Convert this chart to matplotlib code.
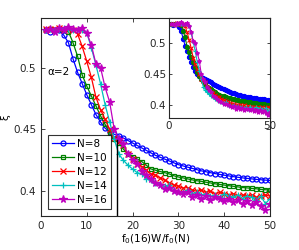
import matplotlib
matplotlib.use("Agg")
import matplotlib.pyplot as plt

x = list(range(1, 51))

xi_n8 = [0.530, 0.529, 0.530, 0.530, 0.526, 0.520, 0.507, 0.496, 0.487, 0.478,
         0.470, 0.462, 0.456, 0.451, 0.448, 0.446, 0.4445, 0.443, 0.441, 0.439,
         0.437, 0.435, 0.433, 0.431, 0.429, 0.4275, 0.426, 0.4245, 0.423, 0.4215,
         0.4205, 0.4195, 0.4185, 0.4175, 0.4165, 0.4158, 0.415, 0.4143, 0.4136, 0.413,
         0.4124, 0.4118, 0.4113, 0.4108, 0.4104, 0.410, 0.4096, 0.4093, 0.409, 0.4087]
xi_n10 = [0.530, 0.531, 0.530, 0.531, 0.530, 0.529, 0.520, 0.509, 0.494, 0.485,
          0.477, 0.469, 0.461, 0.454, 0.447, 0.442, 0.439, 0.434, 0.430, 0.428,
          0.426, 0.424, 0.421, 0.418, 0.417, 0.416, 0.415, 0.414, 0.4125, 0.4115,
          0.4108, 0.410, 0.4092, 0.4085, 0.408, 0.4073, 0.4067, 0.406, 0.4055, 0.405,
          0.4045, 0.404, 0.4035, 0.403, 0.4027, 0.4023, 0.402, 0.4015, 0.4012, 0.401]
xi_n12 = [0.531, 0.530, 0.531, 0.532, 0.530, 0.531, 0.530, 0.527, 0.517, 0.505,
          0.492, 0.476, 0.466, 0.458, 0.450, 0.443, 0.440, 0.437, 0.430, 0.426,
          0.422, 0.420, 0.417, 0.414, 0.413, 0.411, 0.409, 0.407, 0.405, 0.404,
          0.4025, 0.403, 0.401, 0.400, 0.401, 0.399, 0.400, 0.398, 0.399, 0.398,
          0.397, 0.398, 0.396, 0.397, 0.396, 0.397, 0.395, 0.396, 0.397, 0.396]
xi_n14 = [0.530, 0.531, 0.530, 0.531, 0.532, 0.531, 0.530, 0.531, 0.530, 0.528,
          0.516, 0.502, 0.487, 0.470, 0.456, 0.442, 0.430, 0.425, 0.421, 0.418,
          0.415, 0.414, 0.410, 0.409, 0.407, 0.406, 0.404, 0.405, 0.401, 0.400,
          0.399, 0.401, 0.398, 0.399, 0.397, 0.398, 0.396, 0.397, 0.395, 0.398,
          0.396, 0.395, 0.397, 0.394, 0.396, 0.395, 0.393, 0.396, 0.390, 0.394]
xi_n16 = [0.530, 0.531, 0.529, 0.532, 0.530, 0.533, 0.531, 0.530, 0.532, 0.528,
          0.518, 0.503, 0.500, 0.484, 0.472, 0.450, 0.442, 0.438, 0.430, 0.425,
          0.422, 0.416, 0.413, 0.410, 0.407, 0.405, 0.402, 0.403, 0.400, 0.399,
          0.398, 0.399, 0.395, 0.397, 0.394, 0.396, 0.393, 0.395, 0.394, 0.392,
          0.394, 0.391, 0.393, 0.390, 0.392, 0.389, 0.391, 0.388, 0.385, 0.390]

labels = ["N=8", "N=10", "N=12", "N=14", "N=16"]
series = [xi_n8, xi_n10, xi_n12, xi_n14, xi_n16]
colors = ["#0000ff", "#008000", "#ff0000", "#00bfbf", "#bf00bf"]
markers = ["o", "s", "x", "+", "*"]

vline_x = 16.6
vline_top = 0.4415

fs = 7.5
fig = plt.figure(figsize=(2.99, 2.50), dpi=100)
ax = fig.add_axes([0.137, 0.136, 0.766, 0.792])

msizes = {"o": 3.6, "s": 3.4, "x": 3.8, "+": 4.5, "*": 5.5}
for y, lab, c, m in zip(series, labels, colors, markers):
    ax.plot(x, y, color=c, marker=m, markersize=msizes[m],
            markerfacecolor="none" if m in "os" else c, markeredgewidth=0.9,
            linewidth=0.9, label=lab)
ax.plot([vline_x, vline_x], [0.38, vline_top], color="black", linewidth=1.0)

ax.set_xlim(0, 50)
ax.set_ylim(0.38, 0.54)
ax.set_xticks([0, 10, 20, 30, 40, 50])
ax.set_yticks([0.4, 0.45, 0.5])
ax.set_yticklabels(["0.4", "0.45", "0.5"])
ax.tick_params(direction="in", length=3, width=0.6, labelsize=fs, top=True, right=True,
               colors="#262626")
for s in ax.spines.values():
    s.set_linewidth(0.8)
    s.set_color("#262626")
ax.set_xlabel("f$_0$(16)W/f$_0$(N)", fontsize=fs, labelpad=1)
ax.set_ylabel("ξ", fontsize=fs, labelpad=2)
ax.text(1.3, 0.496, "α=2", fontsize=fs, ha="left", va="center")

leg = ax.legend(loc="lower left", fontsize=fs, frameon=True, fancybox=False,
                edgecolor="black", handlelength=2.1, handletextpad=0.3,
                borderpad=0.4, labelspacing=0.38, borderaxespad=0.7)
leg.get_frame().set_linewidth(0.8)

axi = fig.add_axes([0.565, 0.528, 0.338, 0.400])
for y, c, m in zip(series, colors, markers):
    axi.plot(x, y, color=c, marker="o" if m in "os" else m, markersize=3,
             markerfacecolor=c, markeredgewidth=0.8, linewidth=0.8)
axi.set_xlim(0, 50)
axi.set_ylim(0.38, 0.54)
axi.set_xticks([0, 50])
axi.set_yticks([0.4, 0.45, 0.5])
axi.set_yticklabels(["0.4", "0.45", "0.5"])
axi.tick_params(direction="in", length=2.5, width=0.6, labelsize=fs, top=True, right=True,
                colors="#262626", pad=2)
for s in axi.spines.values():
    s.set_linewidth(0.8)
    s.set_color("#262626")

fig.savefig("out.png", dpi=100)
